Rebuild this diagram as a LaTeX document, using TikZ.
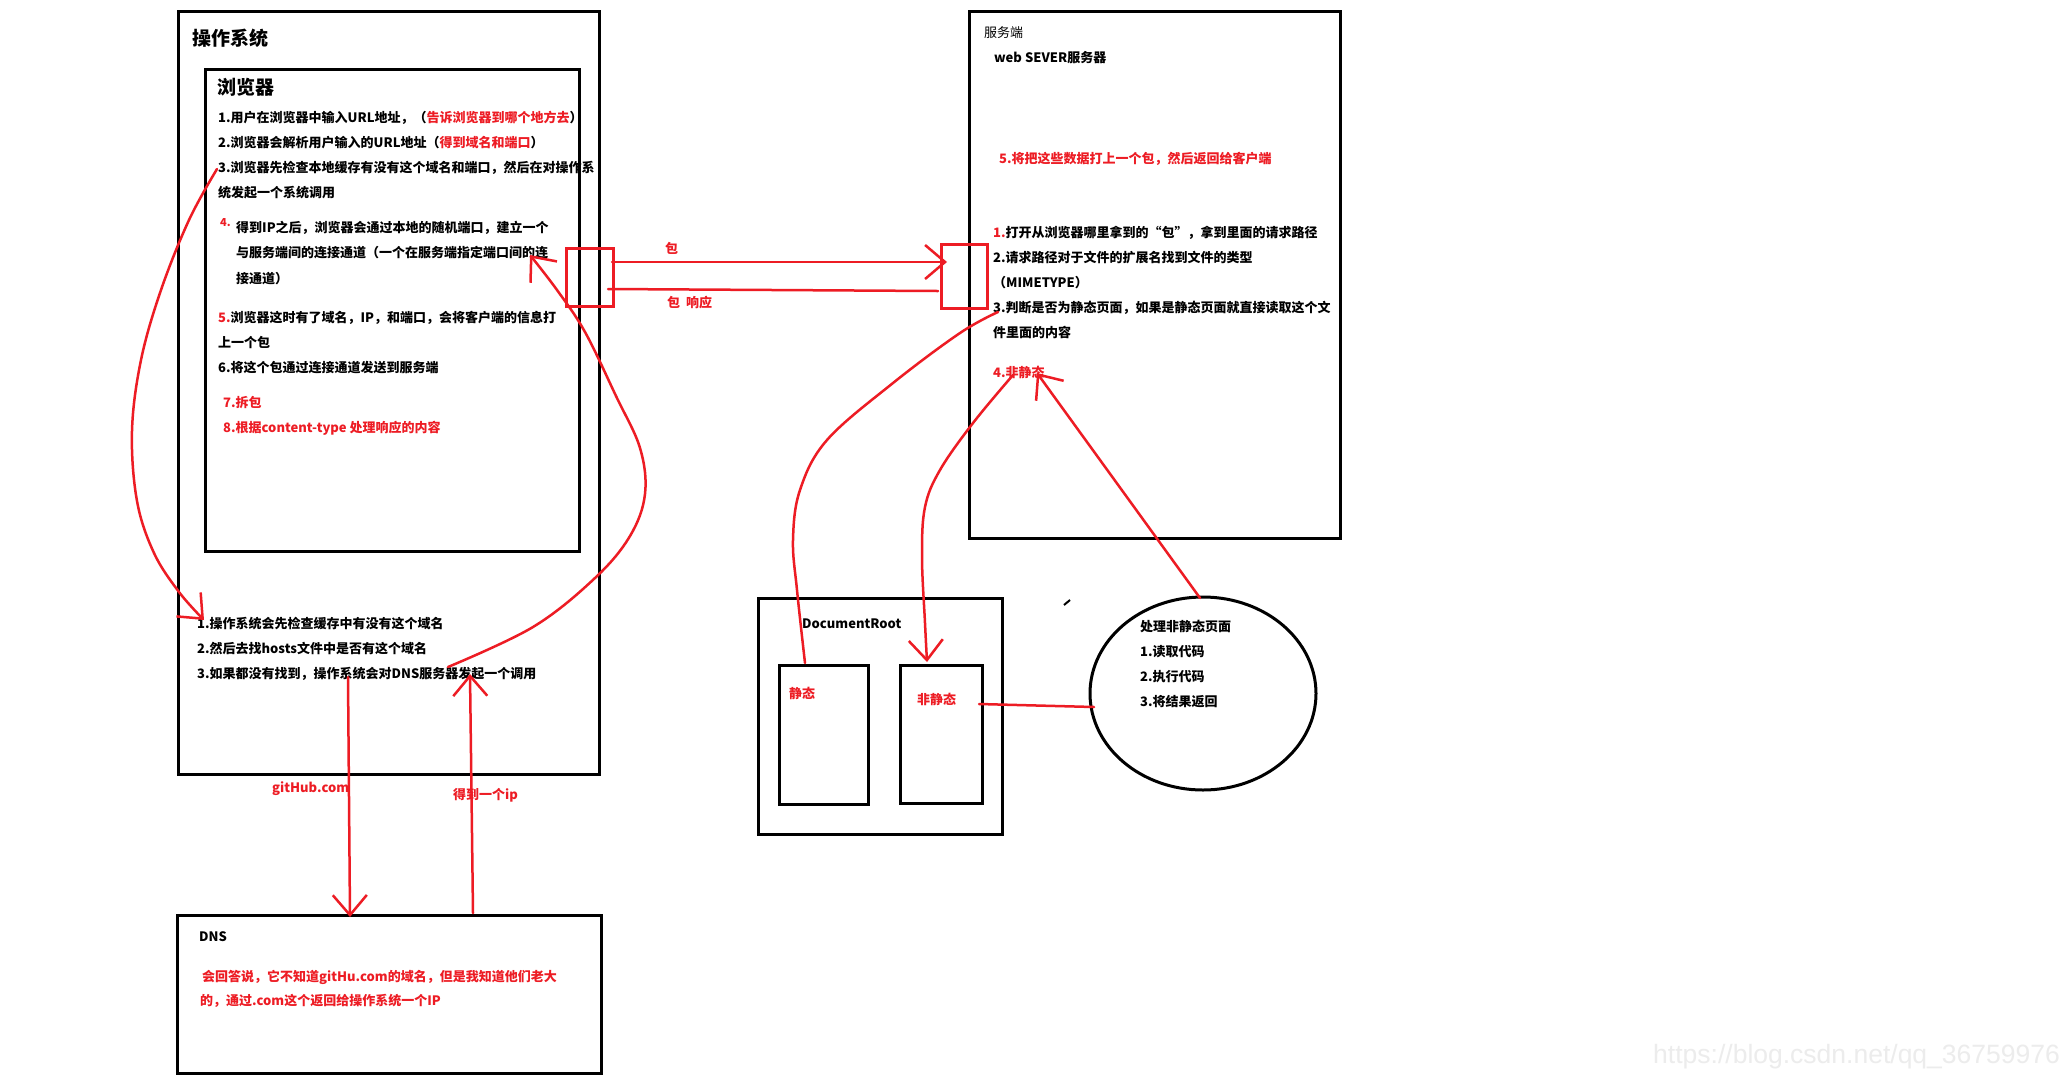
\documentclass[tikz,border=0pt]{standalone}
\usepackage{fontspec}
\setmainfont{Noto Sans CJK SC}
\newfontfamily\wmfont{Liberation Sans}
\usetikzlibrary{arrows.meta,shapes.geometric}
\definecolor{pred}{RGB}{237,28,36}
\definecolor{wm}{RGB}{236,236,236}
\begin{document}
\begin{tikzpicture}[x=1pt,y=-1pt,
  blk/.style={draw=black,line width=3pt,inner sep=0pt,anchor=north west},
  rbox/.style={draw=pred,line width=2.5pt,inner sep=0pt,anchor=north west},
  rl/.style={draw=pred,line width=2.5pt,line cap=round,line join=round},
  tipv/.style={-{Straight Barb[length=20pt,width=34pt]}},
  tx/.style={anchor=base west,inner sep=0pt,font=\bfseries\fontsize{13}{15}\selectfont},
  rtx/.style={tx,text=pred},
  ntx/.style={anchor=base west,inner sep=0pt,font=\fontsize{13}{15}\selectfont},
  hd/.style={anchor=base west,inner sep=0pt,font=\bfseries\fontsize{19}{21}\selectfont}]
\fill[white] (0,0) rectangle (2072,1080);
\useasboundingbox (0,0) rectangle (2072,1080);

% boxes
\node[blk,minimum width=421pt,minimum height=763pt] (os) at (177,10) {};
\node[blk,minimum width=374pt,minimum height=482pt] (br) at (204,68) {};
\node[blk,minimum width=424pt,minimum height=158pt] (dns) at (176,914) {};
\node[blk,minimum width=371pt,minimum height=527pt] (srv) at (968,10) {};
\node[rbox,minimum width=47pt,minimum height=58pt] (cport) at (565,247) {};
\node[rbox,minimum width=46pt,minimum height=64pt] (sport) at (940,243) {};
\node[blk,minimum width=244pt,minimum height=236pt] (root) at (757,597) {};
\node[blk,minimum width=89pt,minimum height=139pt] (stat) at (778,664) {};
\node[blk,minimum width=82pt,minimum height=138pt] (dyn) at (899,664) {};
\node[draw,line width=3pt,ellipse,minimum width=226pt,minimum height=193pt,inner sep=0pt] (proc) at (1203,693.5) {};

% operating system / browser texts
\node[hd] (ost) at (192,45) {操作系统};
\node[hd] (brt) at (217,94) {浏览器};
\node[tx] (b1) at (218,122) {1.用户在浏览器中输入URL地址，（\textcolor{pred}{告诉浏览器到哪个地方去}）};
\node[tx] (b2) at (218,147) {2.浏览器会解析用户输入的URL地址（\textcolor{pred}{得到域名和端口}）};
\node[tx] (b3) at (218,172) {3.浏览器先检查本地缓存有没有这个域名和端口，然后在对操作系};
\node[tx] (b3b) at (218,197) {统发起一个系统调用};
\node[rtx,font=\bfseries\fontsize{11}{13}\selectfont] (b4n) at (220,226) {4.};
\node[tx] (b4) at (236,232) {得到IP之后，浏览器会通过本地的随机端口，建立一个};
\node[tx] (b4b) at (236,257) {与服务端间的连接通道（一个在服务端指定端口间的连};
\node[tx] (b4c) at (236,283) {接通道）};
\node[tx] (b5) at (218,322) {\textcolor{pred}{5.}浏览器这时有了域名，IP，和端口，会将客户端的信息打};
\node[tx] (b5b) at (218,347) {上一个包};
\node[tx] (b6) at (218,372) {6.将这个包通过连接通道发送到服务端};
\node[rtx] (b7) at (223,407) {7.拆包};
\node[rtx] (b8) at (223,432) {8.根据content-type 处理响应的内容};

\node[tx] (o1) at (197,628) {1.操作系统会先检查缓存中有没有这个域名};
\node[tx] (o2) at (197,653) {2.然后去找hosts文件中是否有这个域名};
\node[tx] (o3) at (197,678) {3.如果都没有找到，操作系统会对DNS服务器发起一个调用};

\node[rtx] (gh) at (272,792) {gitHub.com};
\node[rtx] (gip) at (453,799) {得到一个ip};

% DNS
\node[tx] (dnst) at (199,941) {DNS};
\node[rtx] (d1) at (202,981) {会回答说，它不知道gitHu.com的域名，但是我知道他们老大};
\node[rtx] (d2) at (200,1005) {的，通过.com这个返回给操作系统一个IP};

% server
\node[ntx] (srvt) at (984,37) {服务端};
\node[tx] (web) at (994,62) {web SEVER服务器};
\node[rtx] (s5) at (999,163) {5.将把这些数据打上一个包，然后返回给客户端};
\node[tx] (s1) at (993,237) {\textcolor{pred}{1.}打开从浏览器哪里拿到的“包”，拿到里面的请求路径};
\node[tx] (s2) at (993,262) {2.请求路径对于文件的扩展名找到文件的类型};
\node[tx] (s2b) at (993,287) {（MIMETYPE）};
\node[tx] (s3) at (993,312) {3.判断是否为静态页面，如果是静态页面就直接读取这个文};
\node[tx] (s3b) at (993,337) {件里面的内容};
\node[rtx] (s4) at (993,377) {4.非静态};

% channel labels
\node[rtx] (pk1) at (665,253) {包};
\node[rtx] (pk2) at (667,307) {包\ \ 响应};

% document root
\node[tx] (rootT) at (802,628) {DocumentRoot};
\node[rtx] (statT) at (789,698) {静态};
\node[rtx] (dynT) at (917,704) {非静态};

% process circle
\node[tx] (p0) at (1140,631) {处理非静态页面};
\node[tx] (p1) at (1140,656) {1.读取代码};
\node[tx] (p2) at (1140,681) {2.执行代码};
\node[tx] (p3) at (1140,706) {3.将结果返回};

% watermark
\node[anchor=base west,inner sep=0pt,text=wm,font=\wmfont\fontsize{26.5}{28}\selectfont] (wmk) at (1653,1063) {https://blog.csdn.net/qq\_36759976};

% connector end points
\coordinate (lc0) at (217,169);
\coordinate (lc1) at (204,620);
\coordinate (rc0) at (448,667);
\coordinate (rc1) at (530,255);
\coordinate (sc0) at (998,312);
\coordinate (sc1) at (805,663);
\coordinate (nc0) at (1013,375);
\coordinate (nc1) at (927,662);
\coordinate (cc0) at (1200,598);
\coordinate (cc1) at (1037,373);
\coordinate (dc0) at (979,704);
\coordinate (dc1) at (1094,707);
\coordinate (up0) at (612,262);
\coordinate (up1) at (947,262);
\coordinate (lo0) at (608,289);
\coordinate (lo1) at (938,291);
\coordinate (gd0) at (348,677);
\coordinate (gd1) at (350,917);
\coordinate (gu0) at (473,913);
\coordinate (gu1) at (470,674);

% connectors
\draw[rl,tipv] plot[smooth,tension=0.6] coordinates {(lc0) (189,220) (161,290) (141,360) (132,431) (137,501) (154,553) (179,592) (lc1)};
\draw[rl,tipv] plot[smooth,tension=0.6] coordinates {(rc0) (533,627) (595,578) (630,536) (645,494) (640,448) (616,396) (585,332) (557,290) (rc1)};
\draw[rl] plot[smooth,tension=0.6] coordinates {(sc0) (960,333) (893,383) (827,440) (800,490) (793,540) (797,590) (sc1)};
\draw[rl,tipv] plot[smooth,tension=0.6] coordinates {(nc0) (973,423) (940,470) (925,507) (922,557) (925,623) (nc1)};
\draw[rl,tipv] (cc0) -- (cc1);
\draw[rl] (dc0) -- (dc1);
\draw[rl,tipv] (up0) -- (up1);
\draw[rl] (lo0) -- (lo1);
\draw[rl,tipv] (gd0) -- (gd1);
\draw[rl,tipv] (gu0) -- (gu1);

% small stray tick
\draw[line width=2pt] (1064,605) -- (1070,600);
\end{tikzpicture}
\end{document}
